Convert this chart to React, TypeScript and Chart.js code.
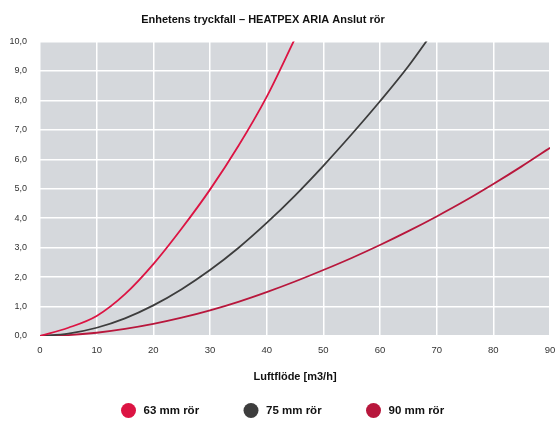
import React, { useEffect, useRef } from "react";
import { Chart, registerables } from "chart.js";

Chart.register(...registerables);

const TITLE = "Enhetens tryckfall – HEATPEX ARIA Anslut rör";
const X_TITLE = "Luftflöde [m3/h]";
const SERIES_LABELS = ["63 mm rör", "75 mm rör", "90 mm rör"];

// 63 mm rör
const X_63 = [0, 5, 10, 15, 20, 25, 30, 35, 40, 45];
const Y_63 = [0, 0.28, 0.68, 1.42, 2.44, 3.65, 4.97, 6.45, 8.12, 10.1];

// 75 mm rör
const X_75 = [0, 5, 10, 15, 20, 25, 30, 35, 40, 45, 50, 55, 60, 65, 70];
const Y_75 = [0, 0.08, 0.28, 0.6, 1.04, 1.59, 2.24, 2.99, 3.84, 4.77, 5.78, 6.85, 7.97, 9.16, 10.5];

// 90 mm rör
const X_90 = [0, 5, 10, 15, 20, 25, 30, 35, 40, 45, 50, 55, 60, 65, 70, 75, 80, 85, 90];
const Y_90 = [0, 0.03, 0.11, 0.24, 0.41, 0.62, 0.87, 1.16, 1.49, 1.85, 2.24, 2.65, 3.09, 3.56, 4.06, 4.59, 5.16, 5.76, 6.39];

const X_MIN = 0;
const X_MAX = 90;
const X_STEP = 10;
const Y_MIN = 0;
const Y_MAX = 10;
const Y_STEP = 1;

const COLORS = ["#dc1443", "#3d3d3d", "#b8173c"];
const FONT = '"Liberation Sans", Arial, Helvetica, sans-serif';

const toPoints = (xs: number[], ys: number[]) => xs.map((x, i) => ({ x, y: ys[i] }));

const plotBackground = {
  id: "plotBackground",
  beforeDraw(chart: any) {
    const { ctx, chartArea } = chart;
    if (!chartArea) return;
    ctx.save();
    ctx.fillStyle = "#d5d8dc";
    ctx.fillRect(chartArea.left, chartArea.top, chartArea.right - chartArea.left, chartArea.bottom - chartArea.top);
    ctx.restore();
  },
};

const bottomLegend = {
  id: "bottomLegend",
  afterDraw(chart: any) {
    const ctx = chart.ctx;
    const startX = 128.5;
    const gap = 122.5;
    const y = 410.5;
    ctx.save();
    ctx.font = `bold 11.5px ${FONT}`;
    ctx.textBaseline = "middle";
    ctx.textAlign = "left";
    chart.data.datasets.forEach((ds: any, i: number) => {
      const cx = startX + i * gap;
      ctx.fillStyle = ds.borderColor;
      ctx.beginPath();
      ctx.arc(cx, y, 7.5, 0, Math.PI * 2);
      ctx.fill();
      ctx.fillStyle = "#111";
      ctx.fillText(ds.label, cx + 15, y + 0.5);
    });
    ctx.restore();
  },
};

export default function App() {
  const canvasRef = useRef<HTMLCanvasElement | null>(null);

  useEffect(() => {
    if (!canvasRef.current) return;
    const series = [
      toPoints(X_63, Y_63),
      toPoints(X_75, Y_75),
      toPoints(X_90, Y_90),
    ];
    const chart = new Chart(canvasRef.current, {
      type: "line",
      data: {
        datasets: series.map((data, i) => ({
          label: SERIES_LABELS[i],
          data,
          borderColor: COLORS[i],
          backgroundColor: COLORS[i],
          borderWidth: 1.8,
          pointRadius: 0,
          pointHoverRadius: 0,
          fill: false,
          cubicInterpolationMode: "monotone" as const,
        })),
      },
      options: {
        responsive: false,
        animation: false,
        events: [],
        layout: { padding: { left: -24, right: 7, top: 0, bottom: 37.4 } },
        plugins: {
          legend: { display: false },
          tooltip: { enabled: false },
          title: {
            display: true,
            text: TITLE,
            color: "#111",
            font: { family: FONT, size: 11, weight: "bold" },
            padding: { top: 13, bottom: 15.3 },
          },
        },
        scales: {
          x: {
            type: "linear",
            min: X_MIN,
            max: X_MAX,
            border: { display: false },
            grid: {
              color: "#ffffff",
              lineWidth: 1.5,
              drawTicks: true,
              tickLength: 8,
              tickColor: "rgba(0,0,0,0)",
            },
            ticks: {
              stepSize: X_STEP,
              padding: 1,
              color: "#333",
              font: { family: FONT, size: 9.5 },
              maxRotation: 0,
              autoSkip: false,
            },
            title: {
              display: true,
              text: X_TITLE,
              color: "#111",
              font: { family: FONT, size: 11, weight: "bold" },
              padding: { top: 13, bottom: 0 },
            },
          },
          y: {
            type: "linear",
            min: Y_MIN,
            max: Y_MAX,
            border: { display: false },
            grid: { color: "#ffffff", lineWidth: 1.5, drawTicks: false },
            ticks: {
              stepSize: Y_STEP,
              padding: 13,
              color: "#333",
              font: { family: FONT, size: 9 },
              callback: (v: any) => Number(v).toFixed(1).replace(".", ","),
            },
            afterFit(scale: any) {
              scale.width = 64;
            },
          },
        },
      },
      plugins: [plotBackground, bottomLegend],
    });
    return () => chart.destroy();
  }, []);

  return (
    <div style={{ position: "fixed", left: 0, top: 0, width: 557, height: 421, background: "#fff" }}>
      <canvas ref={canvasRef} width={557} height={421} style={{ display: "block" }} />
    </div>
  );
}
